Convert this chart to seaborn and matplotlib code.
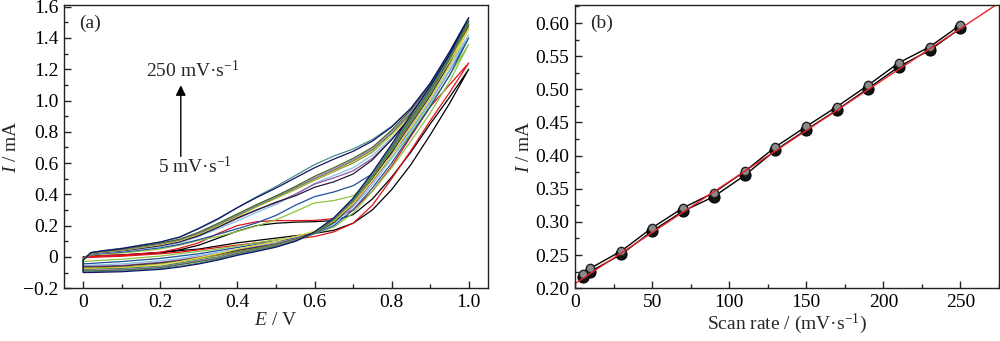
import numpy as np
import pandas as pd
import matplotlib
matplotlib.use("Agg")
import matplotlib.pyplot as plt
from matplotlib.ticker import MultipleLocator, FuncFormatter
import seaborn as sns

# ---------------- data: panel (a) cyclic voltammograms ----------------
E_grid = [0.0, 0.02, 0.05, 0.10, 0.20, 0.25, 0.30, 0.35, 0.40, 0.45, 0.50,
          0.55, 0.60, 0.65, 0.70, 0.75, 0.80, 0.85, 0.90, 0.95, 1.00]

rates_cv = [5, 10, 30, 50, 70, 90, 110, 130, 150, 170, 190, 210, 230, 250]
colors_cv = ['#000000', '#e0141e', '#8cc43c', '#1f4e9c', '#7ec3e6', '#9a559a', '#241a3c',
             '#8c8c28', '#e4dc46', '#2f8a3a', '#c878c8', '#3c6e2a', '#4a8c8c', '#141464']

# forward (anodic) branches, I / mA at E_grid
fwd_5 = [0.0, 0.006, 0.009, 0.013, 0.028, 0.045, 0.075, 0.12, 0.165, 0.20, 0.215, 0.222, 0.225, 0.232, 0.27, 0.37, 0.51, 0.67, 0.85, 1.02, 1.20]
fwd_10 = [-0.003, 0.004, 0.008, 0.012, 0.03, 0.055, 0.09, 0.15, 0.20, 0.225, 0.232, 0.232, 0.233, 0.245, 0.30, 0.42, 0.58, 0.77, 0.96, 1.10, 1.24]
fwd_30 = [-0.006, 0.012, 0.018, 0.025, 0.05, 0.075, 0.105, 0.13, 0.163, 0.198, 0.237, 0.29, 0.345, 0.36, 0.39, 0.49, 0.63, 0.79, 0.97, 1.16, 1.36]
fwd_50 = [-0.009, 0.015, 0.022, 0.03, 0.058, 0.08, 0.11, 0.145, 0.18, 0.218, 0.265, 0.33, 0.385, 0.415, 0.455, 0.53, 0.66, 0.81, 0.99, 1.19, 1.40]
fwd_70 = [-0.011, 0.018, 0.026, 0.035, 0.065, 0.09, 0.13, 0.18, 0.23, 0.285, 0.335, 0.40, 0.47, 0.52, 0.57, 0.65, 0.76, 0.89, 1.05, 1.22, 1.42]
fwd_90 = [-0.012, 0.02, 0.028, 0.038, 0.07, 0.095, 0.135, 0.19, 0.245, 0.30, 0.345, 0.40, 0.465, 0.505, 0.55, 0.63, 0.75, 0.89, 1.06, 1.25, 1.46]
fwd_110 = [-0.013, 0.022, 0.03, 0.04, 0.072, 0.097, 0.137, 0.19, 0.25, 0.30, 0.35, 0.39, 0.445, 0.48, 0.53, 0.62, 0.75, 0.90, 1.07, 1.27, 1.48]
fwd_130 = [-0.014, 0.024, 0.032, 0.043, 0.078, 0.103, 0.145, 0.20, 0.26, 0.32, 0.375, 0.43, 0.49, 0.545, 0.60, 0.67, 0.78, 0.91, 1.08, 1.27, 1.49]
fwd_150 = [-0.015, 0.024, 0.032, 0.043, 0.078, 0.104, 0.146, 0.20, 0.26, 0.32, 0.375, 0.435, 0.495, 0.55, 0.61, 0.68, 0.78, 0.90, 1.06, 1.25, 1.46]
fwd_170 = [-0.016, 0.025, 0.034, 0.045, 0.082, 0.108, 0.15, 0.205, 0.265, 0.325, 0.38, 0.44, 0.50, 0.555, 0.615, 0.685, 0.79, 0.92, 1.09, 1.28, 1.50]
fwd_190 = [-0.017, 0.026, 0.035, 0.047, 0.085, 0.11, 0.153, 0.21, 0.27, 0.33, 0.385, 0.445, 0.505, 0.56, 0.62, 0.69, 0.80, 0.93, 1.10, 1.29, 1.51]
fwd_210 = [-0.018, 0.027, 0.036, 0.049, 0.088, 0.113, 0.158, 0.215, 0.275, 0.335, 0.39, 0.45, 0.515, 0.57, 0.63, 0.70, 0.81, 0.94, 1.10, 1.30, 1.51]
fwd_230 = [-0.02, 0.028, 0.04, 0.055, 0.095, 0.125, 0.18, 0.24, 0.315, 0.385, 0.45, 0.52, 0.59, 0.645, 0.69, 0.75, 0.835, 0.95, 1.11, 1.31, 1.53]
fwd_250 = [-0.02, 0.027, 0.038, 0.053, 0.095, 0.127, 0.183, 0.245, 0.315, 0.38, 0.44, 0.505, 0.57, 0.625, 0.675, 0.74, 0.83, 0.95, 1.11, 1.31, 1.53]

# reverse (return) branches, I / mA at E_grid (listed from E = 0 to 1)
rev_5 = [0.0, 0.001, 0.004, 0.008, 0.027, 0.04, 0.05, 0.07, 0.09, 0.105, 0.12, 0.135, 0.15, 0.17, 0.215, 0.30, 0.43, 0.59, 0.78, 0.98, 1.20]
rev_10 = [-0.005, -0.004, 0.0, 0.004, 0.02, 0.03, 0.045, 0.06, 0.075, 0.09, 0.10, 0.115, 0.13, 0.16, 0.215, 0.33, 0.50, 0.68, 0.87, 1.05, 1.24]
rev_30 = [-0.03, -0.026, -0.022, -0.015, 0.005, 0.02, 0.035, 0.05, 0.07, 0.09, 0.11, 0.125, 0.15, 0.19, 0.28, 0.42, 0.57, 0.74, 0.92, 1.12, 1.36]
rev_50 = [-0.045, -0.042, -0.037, -0.03, -0.01, 0.005, 0.02, 0.04, 0.06, 0.08, 0.10, 0.12, 0.15, 0.20, 0.30, 0.44, 0.60, 0.78, 0.96, 1.16, 1.40]
rev_70 = [-0.055, -0.053, -0.05, -0.045, -0.025, -0.01, 0.01, 0.03, 0.05, 0.07, 0.09, 0.115, 0.15, 0.21, 0.32, 0.46, 0.63, 0.81, 0.99, 1.19, 1.42]
rev_90 = [-0.06, -0.06, -0.058, -0.055, -0.035, -0.02, 0.0, 0.02, 0.045, 0.065, 0.085, 0.115, 0.155, 0.22, 0.33, 0.48, 0.65, 0.83, 1.01, 1.22, 1.46]
rev_110 = [-0.065, -0.065, -0.063, -0.06, -0.04, -0.025, -0.005, 0.015, 0.04, 0.06, 0.08, 0.11, 0.15, 0.22, 0.34, 0.50, 0.67, 0.85, 1.03, 1.24, 1.48]
rev_130 = [-0.07, -0.07, -0.068, -0.065, -0.045, -0.03, -0.01, 0.01, 0.035, 0.055, 0.08, 0.11, 0.15, 0.225, 0.35, 0.51, 0.68, 0.86, 1.04, 1.25, 1.49]
rev_150 = [-0.075, -0.075, -0.073, -0.07, -0.05, -0.03, -0.005, 0.02, 0.05, 0.075, 0.10, 0.13, 0.165, 0.23, 0.34, 0.49, 0.65, 0.83, 1.01, 1.22, 1.46]
rev_170 = [-0.08, -0.08, -0.078, -0.075, -0.06, -0.04, -0.02, 0.0, 0.03, 0.05, 0.075, 0.11, 0.155, 0.235, 0.36, 0.52, 0.69, 0.87, 1.05, 1.26, 1.50]
rev_190 = [-0.085, -0.085, -0.083, -0.08, -0.065, -0.045, -0.025, -0.005, 0.025, 0.045, 0.07, 0.105, 0.155, 0.24, 0.365, 0.53, 0.70, 0.88, 1.06, 1.27, 1.51]
rev_210 = [-0.09, -0.09, -0.088, -0.085, -0.07, -0.05, -0.03, -0.01, 0.02, 0.043, 0.068, 0.10, 0.15, 0.24, 0.365, 0.53, 0.70, 0.885, 1.065, 1.27, 1.51]
rev_230 = [-0.095, -0.095, -0.093, -0.09, -0.075, -0.06, -0.04, -0.015, 0.015, 0.04, 0.065, 0.10, 0.155, 0.245, 0.37, 0.53, 0.71, 0.90, 1.08, 1.28, 1.53]
rev_250 = [-0.10, -0.10, -0.098, -0.095, -0.08, -0.065, -0.045, -0.02, 0.01, 0.035, 0.062, 0.10, 0.16, 0.25, 0.375, 0.54, 0.72, 0.91, 1.09, 1.29, 1.53]

fwd_all = [fwd_5, fwd_10, fwd_30, fwd_50, fwd_70, fwd_90, fwd_110, fwd_130,
           fwd_150, fwd_170, fwd_190, fwd_210, fwd_230, fwd_250]
rev_all = [rev_5, rev_10, rev_30, rev_50, rev_70, rev_90, rev_110, rev_130,
           rev_150, rev_170, rev_190, rev_210, rev_230, rev_250]

# ---------------- data: panel (b) peak current vs scan rate ----------------
scan_rate = [5, 10, 30, 50, 70, 90, 110, 130, 150, 170, 190, 210, 230, 250]
I_peak_a = [0.221, 0.230, 0.256, 0.291, 0.321, 0.344, 0.376, 0.413, 0.444, 0.474, 0.506, 0.540, 0.564, 0.597]
I_peak_b = [0.217, 0.225, 0.251, 0.286, 0.316, 0.338, 0.370, 0.408, 0.439, 0.469, 0.501, 0.534, 0.559, 0.592]

# ---------------- style ----------------
sns.set_style("ticks")
plt.rcParams['font.family'] = ['Liberation Serif', 'DejaVu Serif']
plt.rcParams['mathtext.fontset'] = 'custom'
plt.rcParams['mathtext.rm'] = 'Liberation Serif'
plt.rcParams['mathtext.it'] = 'Liberation Serif:italic'
plt.rcParams['font.size'] = 14
plt.rcParams['axes.unicode_minus'] = True

fig = plt.figure(figsize=(10, 3.41), dpi=100)
ax1 = fig.add_axes([0.064, 0.155, 0.424, 0.830])
ax2 = fig.add_axes([0.575, 0.155, 0.424, 0.830])

# ---- panel (a) ----
rows = []
for r, f, b in zip(rates_cv, fwd_all, rev_all):
    rows.append((r, E_grid[0], b[0]))          # close the loop at E = 0
    for e, i in zip(E_grid, f):
        rows.append((r, e, i))
    for e, i in zip(E_grid[::-1], b[::-1]):
        rows.append((r, e, i))
df_cv = pd.DataFrame(rows, columns=['rate', 'E', 'I'])
sns.lineplot(data=df_cv, x='E', y='I', hue='rate', palette=colors_cv,
             hue_order=rates_cv, sort=False, estimator=None, legend=False,
             linewidth=0.9, ax=ax1)

ax1.set_xlim(-0.05, 1.05)
ax1.set_ylim(-0.2, 1.61)
ax1.xaxis.set_major_locator(MultipleLocator(0.2))
ax1.xaxis.set_minor_locator(MultipleLocator(0.1))
ax1.yaxis.set_major_locator(MultipleLocator(0.2))
ax1.yaxis.set_minor_locator(MultipleLocator(0.1))
fmt1 = FuncFormatter(lambda v, p: '0' if abs(v) < 1e-9 else ('%.1f' % v).replace('-', '\u2212'))
ax1.xaxis.set_major_formatter(fmt1)
ax1.yaxis.set_major_formatter(fmt1)
ax1.set_xlabel('$E$ / V', fontsize=14, labelpad=1)
ax1.set_ylabel('$I$ / mA', fontsize=14, labelpad=2)
ax1.text(0.035, 0.965, '(a)', transform=ax1.transAxes, ha='left', va='top', fontsize=14)
ax1.annotate('', xy=(0.253, 1.115), xytext=(0.253, 0.625),
             arrowprops=dict(arrowstyle='-|>', color='black', lw=1.0, mutation_scale=15))
ax1.text(0.285, 1.19, '250 mV\u00b7s$^{\u22121}$', ha='center', va='center', fontsize=14)
ax1.text(0.29, 0.575, '5 mV\u00b7s$^{\u22121}$', ha='center', va='center', fontsize=14)

# ---- panel (b) ----
ax2.set_xlim(0, 275)
ax2.set_ylim(0.2, 0.627)
sns.lineplot(x=scan_rate, y=I_peak_b, color='black', linewidth=1.0, marker='o',
             markersize=8, markerfacecolor='#111111', markeredgecolor='black', ax=ax2)
sns.lineplot(x=scan_rate, y=I_peak_a, color='black', linewidth=1.0, marker='o',
             markersize=6, markerfacecolor='#8a8a8a', markeredgecolor='#222222',
             markeredgewidth=1.0, ax=ax2)
df_b = pd.DataFrame({'rate': scan_rate, 'I': I_peak_b})
sns.regplot(data=df_b, x='rate', y='I', scatter=False, ci=None, truncate=False,
            line_kws=dict(color='#e8262a', linewidth=1.0), ax=ax2)
ax2.set_xlim(0, 275)
ax2.set_ylim(0.2, 0.627)
ax2.xaxis.set_major_locator(MultipleLocator(50))
ax2.xaxis.set_minor_locator(MultipleLocator(25))
ax2.yaxis.set_major_locator(MultipleLocator(0.05))
ax2.yaxis.set_minor_locator(MultipleLocator(0.025))
ax2.xaxis.set_major_formatter(FuncFormatter(lambda v, p: '%d' % round(v)))
ax2.yaxis.set_major_formatter(FuncFormatter(lambda v, p: '%.2f' % v))
ax2.set_xlabel('Scan rate / (mV\u00b7s$^{\u22121}$)', fontsize=14, labelpad=1)
ax2.set_ylabel('$I$ / mA', fontsize=14, labelpad=2)
ax2.text(0.035, 0.965, '(b)', transform=ax2.transAxes, ha='left', va='top', fontsize=14)

for ax in (ax1, ax2):
    for s in ax.spines.values():
        s.set_visible(True)
        s.set_linewidth(1.0)
        s.set_color('#222222')
    ax.tick_params(which='both', direction='in', top=False, right=False,
                   labelsize=14, width=1.0, colors='#222222', labelcolor='black')
    ax.tick_params(which='major', length=5, pad=4)
    ax.tick_params(which='minor', length=3)

fig.savefig('out.png', dpi=100)
